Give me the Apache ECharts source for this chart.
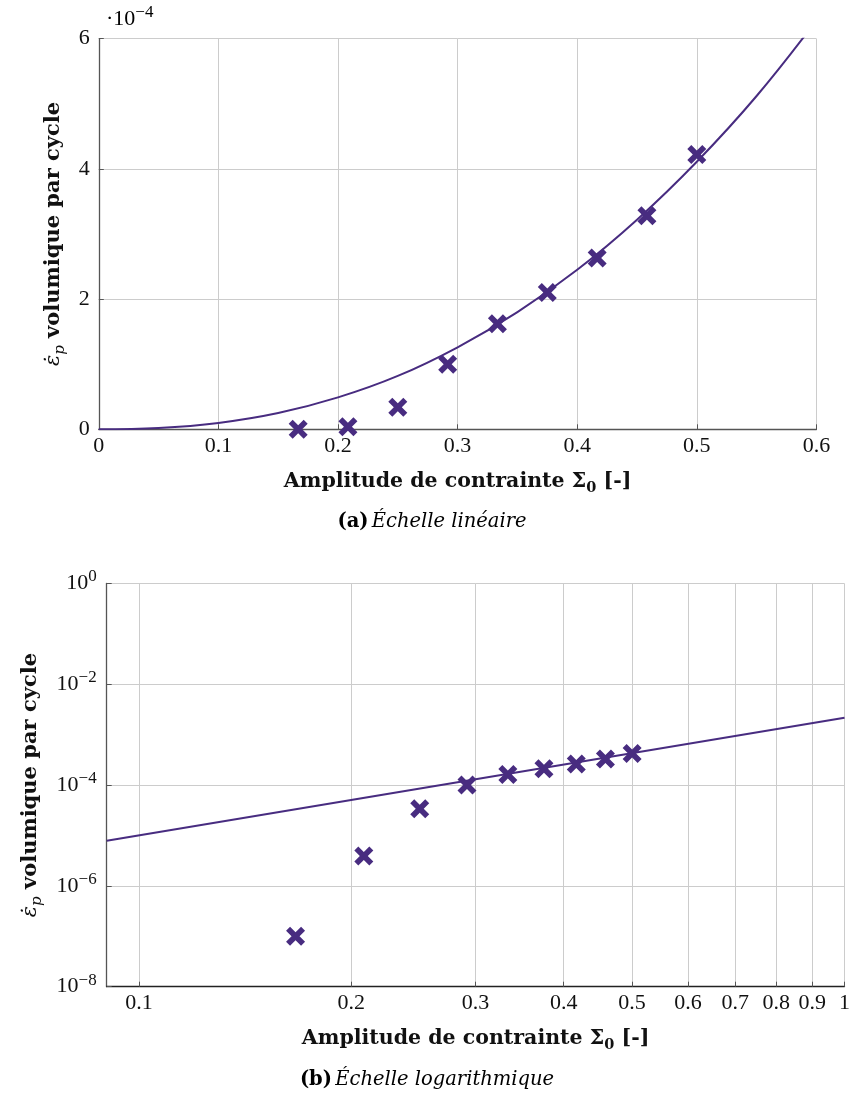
<!DOCTYPE html>
<html><head><meta charset="utf-8">
<script src="https://cdn.jsdelivr.net/npm/echarts@6/dist/echarts.min.js"></script>
<style>html,body{margin:0;padding:0;background:#fff}#c{width:853px;height:1095px}</style>
</head><body><div id="c"></div>
<script>
// ---- data ----
const amplitude = [0.1667, 0.2083, 0.25, 0.2917, 0.3333, 0.375, 0.4167, 0.4583, 0.5];
const strainRate = [0.001, 0.039, 0.34, 1.0, 1.62, 2.10, 2.63, 3.28, 4.22]; // in 1e-4
const fitX = [0, 0.05, 0.1, 0.15, 0.2, 0.25, 0.3, 0.35, 0.4, 0.45, 0.5, 0.55, 0.6];
const fitY = [0, 0.02, 0.098, 0.25, 0.49, 0.82, 1.26, 1.80, 2.45, 3.22, 4.11, 5.12, 6.28]; // in 1e-4
const logFitX = [0.09, 1];
const logFitY = [7.9e-6, 2.16e-3];
const logXTicks = [0.1, 0.2, 0.3, 0.4, 0.5, 0.6, 0.7, 0.8, 0.9, 1];
const logYTicks = [1e-8, 1e-6, 1e-4, 1e-2, 1];

const PURPLE = '#482c80';
const GRID = '#cccccc';
const AXIS = '#555555';
const TICKFONT = 'Liberation Serif';
const BOLDFONT = 'DejaVu Serif';
const crossPath = 'path://M0,4.2 L4.2,0 L10,5.8 L15.8,0 L20,4.2 L14.2,10 L20,15.8 L15.8,20 L10,14.2 L4.2,20 L0,15.8 L5.8,10 Z';

const tickLabel = {color: '#111', fontFamily: TICKFONT, fontSize: 22};
const yNameStyle = {
  rich: {
    m: {fontFamily: 'DejaVu Serif', fontStyle: 'italic', fontSize: 21, lineHeight: 28, color: '#111'},
    s: {fontFamily: 'DejaVu Serif', fontStyle: 'italic', fontSize: 15, color: '#111', verticalAlign: 'bottom'},
    b: {fontFamily: BOLDFONT, fontWeight: 'bold', fontSize: 21, lineHeight: 28, color: '#111'}
  }
};
const yName = '{m|ε̇}{s|p}{b| volumique par cycle}';
const xName = '{b|Amplitude de contrainte Σ}{s|0}{b| [-]}';
const xNameStyle = {
  rich: {
    b: {fontFamily: BOLDFONT, fontWeight: 'bold', fontSize: 20.5, lineHeight: 28, color: '#111'},
    s: {fontFamily: BOLDFONT, fontWeight: 'bold', fontSize: 14.5, color: '#111', verticalAlign: 'bottom'}
  }
};
const supRich = {
  b: {fontFamily: TICKFONT, fontSize: 22, lineHeight: 30, color: '#111'},
  sup: {fontFamily: TICKFONT, fontSize: 17, color: '#111', verticalAlign: 'top'}
};
const capRich = {
  b: {fontFamily: BOLDFONT, fontWeight: 'bold', fontSize: 19.5, color: '#111'},
  i: {fontFamily: 'DejaVu Serif', fontStyle: 'italic', fontSize: 19.5, color: '#111'}
};

const chart = echarts.init(document.getElementById('c'), null, {renderer: 'canvas'});
chart.setOption({
  animation: false,
  backgroundColor: '#fff',
  grid: [
    {left: 98.8, top: 38.7, width: 717.6, height: 390.6},
    {left: 106.7, top: 583.5, width: 739, height: 403.2}
  ],
  xAxis: [
    {
      gridIndex: 0, type: 'value', min: 0, max: 0.6, interval: 0.1,
      name: xName, nameLocation: 'middle', nameGap: 38, nameTextStyle: xNameStyle,
      axisLine: {lineStyle: {color: AXIS, width: 1.3}},
      axisTick: {inside: true, length: 5, lineStyle: {color: AXIS}},
      axisLabel: Object.assign({margin: 6, formatter: v => v === 0 ? '0' : v.toFixed(1)}, tickLabel),
      splitLine: {show: true, lineStyle: {color: GRID, width: 1}}
    },
    {
      gridIndex: 1, type: 'log', logBase: 10, min: 0.09, max: 1,
      name: xName, nameLocation: 'middle', nameGap: 38, nameTextStyle: xNameStyle,
      axisLine: {lineStyle: {color: '#222', width: 1.3}},
      axisTick: {inside: true, length: 5, lineStyle: {color: AXIS}, customValues: logXTicks},
      axisLabel: Object.assign({margin: 6, customValues: logXTicks,
        formatter: v => (Math.abs(v - 1) < 1e-9 ? '1' : (Math.round(v * 10) / 10).toFixed(1))}, tickLabel),
      splitLine: {show: true, lineStyle: {color: GRID, width: 1}},
      minorTick: {show: false}, minorSplitLine: {show: false}
    }
  ],
  yAxis: [
    {
      gridIndex: 0, type: 'value', min: 0, max: 6, interval: 2,
      name: yName, nameLocation: 'middle', nameGap: 30, nameRotate: 90, nameTextStyle: yNameStyle,
      axisLine: {show: true, lineStyle: {color: AXIS, width: 1.3}},
      axisTick: {show: true, inside: true, length: 5, lineStyle: {color: AXIS}},
      axisLabel: Object.assign({margin: 9}, tickLabel),
      splitLine: {show: true, lineStyle: {color: GRID, width: 1}}
    },
    {
      gridIndex: 1, type: 'log', logBase: 10, min: 1e-8, max: 1,
      name: yName, nameLocation: 'middle', nameGap: 62, nameRotate: 90, nameTextStyle: yNameStyle,
      axisLine: {show: true, lineStyle: {color: AXIS, width: 1.3}},
      axisTick: {show: true, inside: true, length: 5, lineStyle: {color: AXIS}, customValues: logYTicks},
      axisLabel: Object.assign({margin: 10, customValues: logYTicks,
        formatter: v => '{b|10}{sup|' + (Math.round(Math.log10(v)) === 0 ? '0' : '−' + Math.abs(Math.round(Math.log10(v)))) + '}',
        rich: supRich}, tickLabel),
      splitLine: {show: true, lineStyle: {color: GRID, width: 1}},
      minorTick: {show: false}, minorSplitLine: {show: false}
    }
  ],
  series: [
    {
      type: 'line', xAxisIndex: 0, yAxisIndex: 0, smooth: 0.4, showSymbol: false, clip: true,
      lineStyle: {color: PURPLE, width: 2}, itemStyle: {color: PURPLE},
      data: fitX.map((x, i) => [x, fitY[i]]), z: 3
    },
    {
      type: 'scatter', xAxisIndex: 0, yAxisIndex: 0, symbol: crossPath, symbolSize: 19,
      itemStyle: {color: PURPLE, opacity: 1}, clip: false,
      data: amplitude.map((x, i) => [x, strainRate[i]]), z: 4
    },
    {
      type: 'line', xAxisIndex: 1, yAxisIndex: 1, showSymbol: false, clip: true,
      lineStyle: {color: PURPLE, width: 2}, itemStyle: {color: PURPLE},
      data: logFitX.map((x, i) => [x, logFitY[i]]), z: 3
    },
    {
      type: 'scatter', xAxisIndex: 1, yAxisIndex: 1, symbol: crossPath, symbolSize: 19,
      itemStyle: {color: PURPLE, opacity: 1},
      data: amplitude.map((x, i) => [x, strainRate[i] * 1e-4]), z: 4
    }
  ],
  graphic: [
    {
      type: 'text', x: 106, y: 19,
      style: {
        text: '{b|·10}{sup|−4}', rich: supRich, textAlign: 'left', textVerticalAlign: 'middle'
      }
    },
    {
      type: 'text', x: 432, y: 522,
      style: {
        text: '{b|(a)} {i|Échelle linéaire}', textAlign: 'center', textVerticalAlign: 'middle', rich: capRich
      }
    },
    {
      type: 'text', x: 427, y: 1080,
      style: {
        text: '{b|(b)} {i|Échelle logarithmique}', textAlign: 'center', textVerticalAlign: 'middle', rich: capRich
      }
    }
  ]
});
</script></body></html>
